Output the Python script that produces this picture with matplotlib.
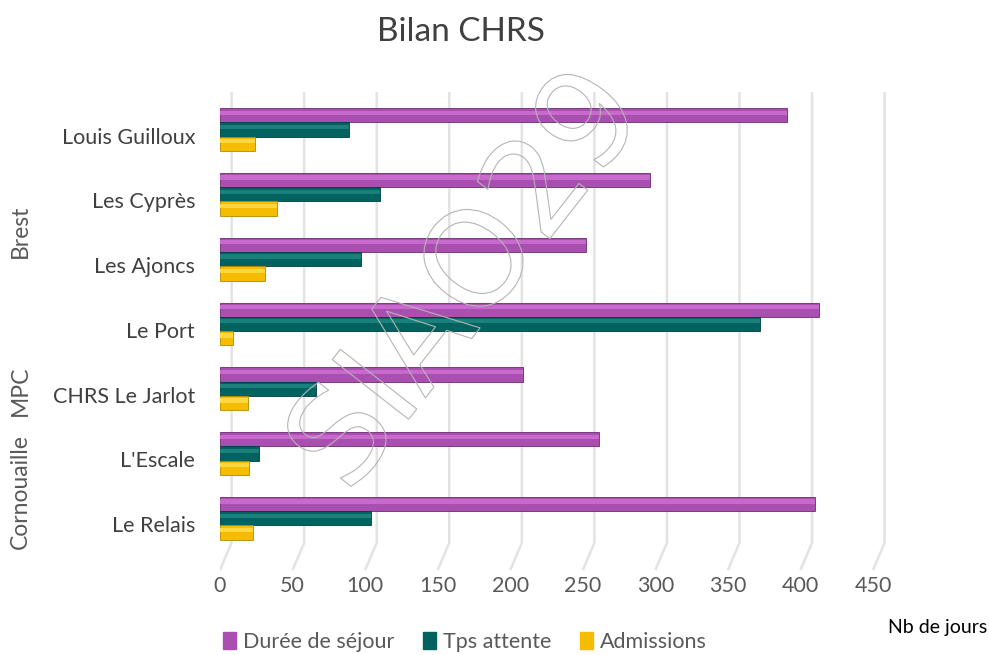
import matplotlib.pyplot as plt
from matplotlib.patches import Patch, PathPatch
from matplotlib.textpath import TextPath
from matplotlib.font_manager import FontProperties
from matplotlib.transforms import Affine2D, ScaledTranslation
import numpy as np

plt.rcParams['font.family'] = ['Lato', 'DejaVu Sans']

# data
etablissements = ['Louis Guilloux', 'Les Cyprès', 'Les Ajoncs', 'Le Port',
                  'CHRS Le Jarlot', "L'Escale", 'Le Relais']
duree_sejour = [391, 296, 252, 413, 209, 261, 410]
tps_attente = [89, 110, 97, 372, 66, 27, 104]
admissions = [24, 39, 31, 9, 19, 20, 23]
groupes = ['Brest', 'MPC', 'Cornouaille']
x_ticks = [0, 50, 100, 150, 200, 250, 300, 350, 400, 450]

series = [
    ('Durée de séjour', duree_sejour, '#A94FB0', '#C86ACD', '#6E2A73'),
    ('Tps attente', tps_attente, '#00635F', '#1A807B', '#003E3B'),
    ('Admissions', admissions, '#F5BC00', '#FFD740', '#B58A00'),
]

W, H = 989, 655
fig = plt.figure(figsize=(W / 100, H / 100), dpi=100)
ax = fig.add_axes([220 / W, 1 - 572 / H, (887.5 - 220) / W, (572 - 92) / H])
ax.set_xlim(0, 460)
ax.set_ylim(6.83, -0.58)

# grid lines with small 3D hook at the bottom
for v in x_ticks:
    ax.plot([v + 8, v + 8, v], [-0.58, 6.38, 6.80], color='#E3E3E3', lw=1.8,
            zorder=0, solid_capstyle='butt')

y = np.arange(len(etablissements))
bh = 0.22
offsets = [-0.22, 0.0, 0.22]
for (name, vals, col, light, dark), off in zip(series, offsets):
    ax.barh(y + off, vals, height=bh, color=col, edgecolor=dark, lw=0.6, zorder=2)
    # highlight to suggest a cylinder
    ax.barh(y + off - bh * 0.18, vals, height=bh * 0.3, color=light, lw=0, zorder=3)

ax.set_yticks(y)
ax.set_yticklabels(etablissements, fontsize=15.5, color='#404040')
ax.set_xticks(x_ticks)
ax.set_xticklabels([str(t) for t in x_ticks], fontsize=15.5, color='#595959')
ax.tick_params(length=0)
ax.tick_params(axis='y', pad=18)
ax.tick_params(axis='x', pad=3)
for lab in ax.get_yticklabels():
    lab.set_transform(lab.get_transform() + ScaledTranslation(0, -0.06, fig.dpi_scale_trans))
for s in ax.spines.values():
    s.set_visible(False)

# group labels
for g, yp in zip(groupes, [231, 391, 492]):
    fig.text(20 / W, 1 - yp / H, g, rotation=90, ha='center', va='center',
             fontsize=16.5, color='#595959')

fig.text(461 / W, 1 - 32 / H, 'Bilan CHRS', ha='center', va='center',
         fontsize=24, color='#404040')
fig.text(987 / W, 1 - 628 / H, 'Nb de jours', ha='right', va='center',
         fontsize=14, color='black')

handles = [Patch(color=c, label=n) for n, _, c, _, _ in series]
fig.legend(handles=handles, loc='center', bbox_to_anchor=(465 / W, 1 - 642 / H),
           ncol=3, frameon=False, fontsize=15.5, handlelength=0.6, handleheight=0.8,
           handletextpad=0.35, columnspacing=1.3, labelcolor='#595959')

# watermark
tp = TextPath((0, 0), 'SIAO29', size=1.33, prop=FontProperties(family='DejaVu Sans'))
bb = tp.get_extents()
tr = (Affine2D().translate(-(bb.x0 + bb.x1) / 2, -(bb.y0 + bb.y1) / 2)
      .rotate_deg(52).translate(4.60, (H - 275) / 100) + fig.dpi_scale_trans)
fig.patches.append(PathPatch(tp, transform=tr, facecolor='none',
                             edgecolor='#B5B5B5', lw=0.8, zorder=10))

fig.savefig('out.png', dpi=100)
